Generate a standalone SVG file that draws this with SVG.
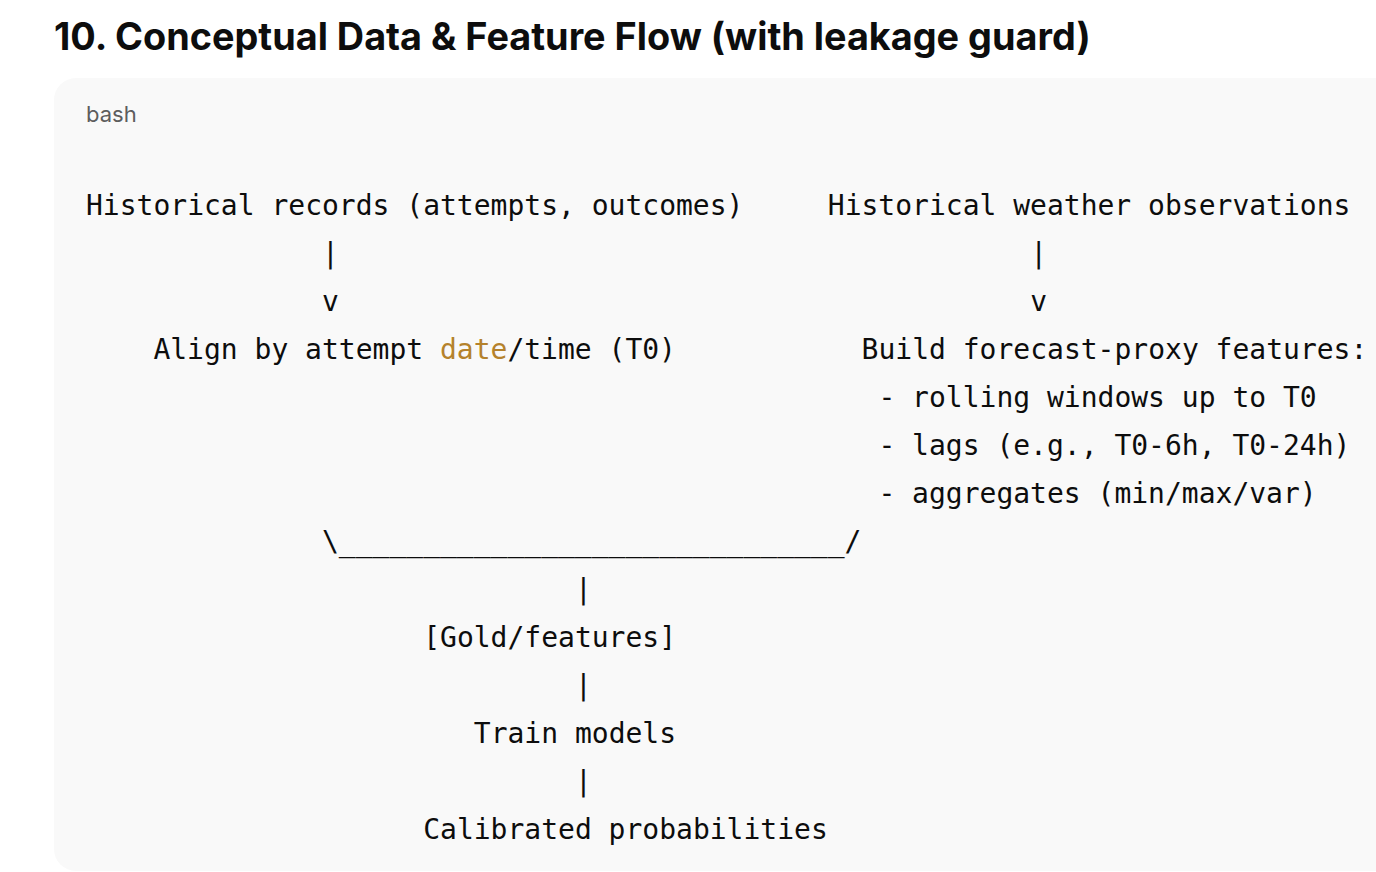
<svg xmlns="http://www.w3.org/2000/svg" width="1376" height="872" viewBox="0 0 1376 872">
<style>
.title{font-family:Inter,"Liberation Sans",sans-serif;font-weight:700;font-size:37.8px;fill:#0d0d0d}
.lang{font-family:Inter,"Liberation Sans",sans-serif;font-size:22px;fill:#5d5d5d}
.m{font-family:"DejaVu Sans Mono","Liberation Mono",monospace;font-size:28px;fill:#0d0d0d;white-space:pre}
.kw{fill:#b5822c}
</style>
<rect width="1376" height="872" fill="#ffffff"/>
<text class="title" x="54" y="50">10. Conceptual Data &amp; Feature Flow (with leakage guard)</text>
<rect x="54" y="78" width="1360" height="793" rx="22" fill="#f9f9f9"/>
<text class="lang" x="86" y="122">bash</text>
<g id="historical-records"><text class="m" x="86" y="215">Historical records (attempts, outcomes)</text></g>
<g id="historical-weather"><text class="m" x="827.8" y="215">Historical weather observations</text></g>
<g id="align"><text class="m" x="153.4" y="359">Align by attempt <tspan class="kw">date</tspan>/time (T0)</text></g>
<g id="build-features">
<text class="m" x="861.6" y="359">Build forecast-proxy features:</text>
<text class="m" x="878.4" y="407">- rolling windows up to T0</text>
<text class="m" x="878.4" y="455">- lags (e.g., T0-6h, T0-24h)</text>
<text class="m" x="878.4" y="503">- aggregates (min/max/var)</text>
</g>
<g id="gold"><text class="m" x="423.2" y="647">[Gold/features]</text></g>
<g id="train"><text class="m" x="473.8" y="743">Train models</text></g>
<g id="calibrated"><text class="m" x="423.2" y="839">Calibrated probabilities</text></g>
<g id="connectors">
<text class="m" x="322" y="263">|</text>
<text class="m" x="322" y="311">v</text>
<text class="m" x="1030.2" y="263">|</text>
<text class="m" x="1030.2" y="311">v</text>
<text class="m" x="322" y="551">\______________________________/</text>
<text class="m" x="575" y="599">|</text>
<text class="m" x="575" y="695">|</text>
<text class="m" x="575" y="791">|</text>
</g>
</svg>
